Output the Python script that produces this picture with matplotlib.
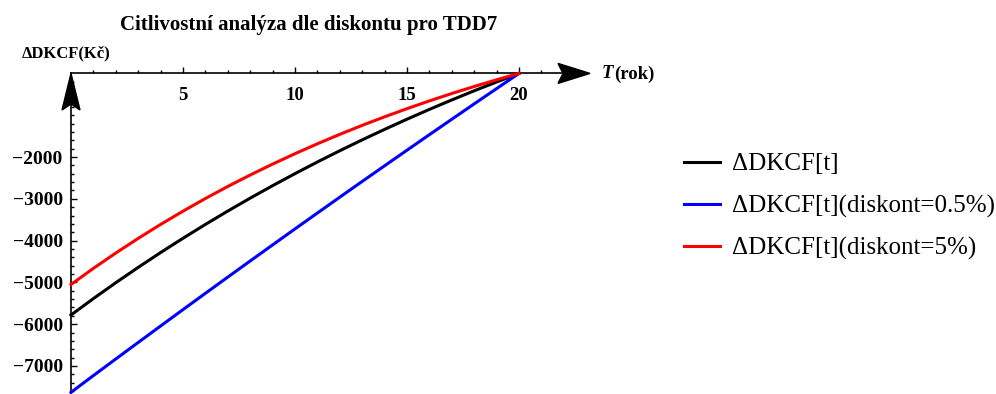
import matplotlib
matplotlib.use("Agg")
import matplotlib.pyplot as plt
from matplotlib.patches import Polygon

# ΔDKCF over the remaining years for the base discount and two alternatives
years = list(range(0, 21))
dkcf_base = [-5780, -5387, -5007, -4641, -4286, -3944, -3613, -3293, -2984, -2686,
             -2398, -2119, -1850, -1590, -1339, -1096, -861, -635, -416, -205, 0]
dkcf_low = [-7630, -7229, -6832, -6437, -6043, -5651, -5261, -4873, -4487, -4103,
            -3720, -3340, -2961, -2584, -2210, -1837, -1466, -1097, -729, -364, 0]
dkcf_high = [-5050, -4664, -4297, -3947, -3613, -3296, -2993, -2705, -2431, -2170,
             -1921, -1684, -1458, -1243, -1039, -844, -658, -481, -313, -153, 0]

series_labels = ["ΔDKCF[t]", "ΔDKCF[t](diskont=0.5%)", "ΔDKCF[t](diskont=5%)"]
x_major = [5, 10, 15, 20]
x_minor = [1, 2, 3, 4, 6, 7, 8, 9, 11, 12, 13, 14, 16, 17, 18, 19, 21]
y_major = [-7000, -6000, -5000, -4000, -3000, -2000]
y_major_labels = ["−7000", "−6000", "−5000", "−4000", "−3000", "−2000"]
y_minor = [v for v in range(-7600, 0, 200) if v % 1000 != 0] + [-1000]

title = "Citlivostní analýza dle diskontu pro TDD7"
y_title = "ΔDKCF(Kč)"

SERIF = ["Liberation Serif", "DejaVu Serif"]
plt.rcParams["font.family"] = SERIF

W, H, DPI = 996, 394, 100
fig = plt.figure(figsize=(W / DPI, H / DPI), dpi=DPI)
ax = fig.add_axes([0, 0, 1, 1])

# pixel geometry: origin of the axes and scale of each axis
x0_px, y0_px = 71.0, 73.4
px_per_year = 22.4
px_per_unit = 41.8 / 1000.0
ax.set_xlim(-x0_px / px_per_year, (W - x0_px) / px_per_year)
ymin = -(H - y0_px) / px_per_unit
ax.set_ylim(ymin, y0_px / px_per_unit)

def px_x(p):
    return p / px_per_year

def px_y(p):
    return p / px_per_unit

ax.patch.set_visible(False)
for side in ("top", "right"):
    ax.spines[side].set_visible(False)
ax.spines["left"].set_position(("data", 0))
ax.spines["bottom"].set_position(("data", 0))
ax.spines["left"].set_bounds(ymin, 0)
ax.spines["bottom"].set_bounds(0, 22.0)
for side in ("left", "bottom"):
    ax.spines[side].set_linewidth(1.2)

ax.set_xticks(x_major)
ax.set_xticks(x_minor, minor=True)
ax.set_yticks(y_major, labels=y_major_labels)
ax.set_yticks(y_minor, minor=True)
ax.tick_params(axis="x", which="major", direction="in", length=4, width=1.0, pad=10,
               labelsize=13.5)
ax.tick_params(axis="x", which="minor", direction="in", length=2.5, width=1.0)
ax.tick_params(axis="y", which="major", direction="in", length=4, width=1.0, pad=6,
               labelsize=14)
ax.tick_params(axis="y", which="minor", direction="in", length=2.5, width=1.0)
for lab in ax.get_xticklabels() + ax.get_yticklabels():
    lab.set_fontweight("bold")

lw = 2.2
l1, = ax.plot(years, dkcf_base, color="black", lw=lw, label=series_labels[0], zorder=3)
l2, = ax.plot(years, dkcf_low, color="#0000ff", lw=lw, label=series_labels[1], zorder=3)
l3, = ax.plot(years, dkcf_high, color="#ff0000", lw=lw, label=series_labels[2], zorder=3)

# arrowheads at the ends of both axes
tip_x = px_x(590 - x0_px)
base_x = px_x(558 - x0_px)
notch_x = px_x(563 - x0_px)
hh = px_y(10)
ax.add_patch(Polygon([(tip_x, 0), (base_x, hh), (notch_x, 0), (base_x, -hh)],
                     closed=True, color="black", zorder=4, clip_on=False))
tip_y = px_y(0)
base_y = -px_y(110 - y0_px)
notch_y = -px_y(104 - y0_px)
hw = px_x(9)
ax.add_patch(Polygon([(0, tip_y), (hw, base_y), (0, notch_y), (-hw, base_y)],
                     closed=True, color="black", zorder=4, clip_on=False))

fig.text(309 / W, 1 - 25 / H, title, ha="center", va="center",
         fontsize=15, fontweight="bold", family=SERIF)
fig.text(22 / W, 1 - 53 / H, y_title, ha="left", va="center",
         fontsize=12, fontweight="bold", family=SERIF)
fig.text(602 / W, 1 - 74 / H, "T", ha="left", va="center",
         fontsize=13.5, fontweight="bold", fontstyle="italic", family=SERIF)
fig.text(614 / W, 1 - 74 / H, "(rok)", ha="left", va="center",
         fontsize=13.5, fontweight="bold", family=SERIF)

fig.legend(handles=[l1, l2, l3], loc="upper left",
           bbox_to_anchor=(684 / W, 1 - 153 / H), frameon=False,
           prop={"family": SERIF, "size": 18}, handlelength=1.45,
           handletextpad=0.45, labelspacing=0.77, borderpad=0, borderaxespad=0)

fig.savefig("out.png", dpi=DPI)
